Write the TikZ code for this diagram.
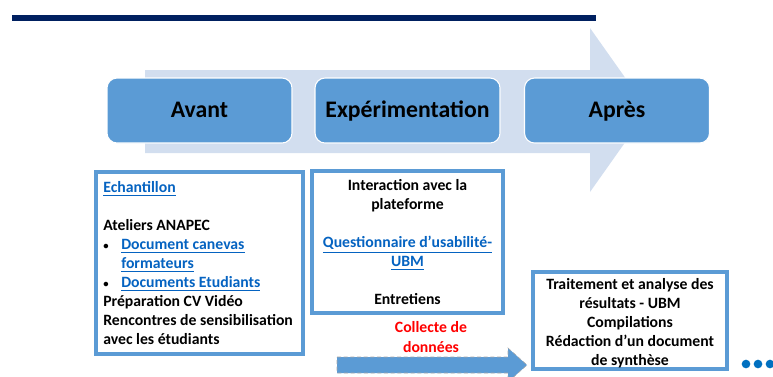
\documentclass[tikz,border=0pt]{standalone}
\usepackage{fontspec}
\setmainfont{Carlito}
\definecolor{navy}{HTML}{002060}
\definecolor{boxblue}{HTML}{5B9BD5}
\definecolor{lightarrow}{RGB}{210,222,239}
\definecolor{linkblue}{HTML}{0563C1}
\definecolor{dotblue}{HTML}{0070C0}
\newcommand{\lnk}[1]{\textcolor{linkblue}{\underline{#1}}}
\newcommand{\bul}{\makebox[13.5pt][l]{\raisebox{0.5pt}{\fontsize{8}{8}\selectfont\textbullet}}}
\tikzset{
  phase/.style={rounded corners=7.5pt, fill=boxblue, draw=white, line width=0.8pt,
    minimum width=138.75pt, minimum height=48.75pt, inner sep=0pt,
    text height=14pt, text depth=3.4pt,
    font=\fontsize{17.8}{20}\selectfont\bfseries},
  lowbox/.style={draw=boxblue, fill=white, line width=2.5pt, inner sep=0pt},
  lowtext/.style={inner sep=0pt, font=\fontsize{11.8}{14.25}\selectfont\bfseries},
  dotstyle/.style={circle, fill=dotblue, inner sep=0pt, minimum size=6.5pt}
}
\begin{document}
\begin{tikzpicture}[x=0.75pt,y=-0.75pt]
\useasboundingbox (0,0) rectangle (773,376);
\clip (0,0) rectangle (773,376);
% title bar
\fill[navy] (12,15) rectangle (596,21);
% big light arrow
\fill[lightarrow] (145,70) -- (590,70) -- (590,28) -- (648,110) -- (590,192) -- (590,153) -- (145,153) -- cycle;
% phase boxes
\node[phase] (avant) at (199.5,110.5) {Avant};
\node[phase] (exp) at (407.5,110.5) {Expérimentation};
\node[phase] (apres) at (617,110.5) {Après};
% lower boxes
\node[lowbox, minimum width=155.25pt, minimum height=136.5pt] (leftbox) at (199.5,263) {};
\node[lowtext, anchor=west, align=left] (lefttxt) at (103,263.5) {%
\lnk{Echantillon}\\
\mbox{}\\
Ateliers ANAPEC\\
\bul\lnk{Document canevas}\\
\hspace*{13.5pt}\lnk{formateurs}\\
\bul\lnk{Documents Etudiants}\\
Préparation CV Vidéo\\
Rencontres de sensibilisation\\
avec les étudiants};
\node[lowbox, minimum width=143.25pt, minimum height=106.5pt] (midbox) at (407.5,242) {};
\node[lowtext, align=center] (midtxt) at (407.5,242.5) {%
Interaction avec la\\
plateforme\\
\mbox{}\\
\lnk{Questionnaire d’usabilité-}\\
\lnk{UBM}\\
\mbox{}\\
Entretiens};
\node[lowbox, minimum width=145.5pt, minimum height=72.75pt] (rightbox) at (630,320.5) {};
\node[lowtext, align=center] (righttxt) at (630,323) {%
Traitement et analyse des\\
résultats - UBM\\
Compilations\\
Rédaction d’un document\\
de synthèse};
% collecte
\node[lowtext, align=center, text=red, font=\fontsize{11.8}{15}\selectfont\bfseries] (collecte) at (431,337) {Collecte de\\données};
% blue arrow
\filldraw[fill=boxblue, draw=gray!70, densely dashed, line width=0.4pt]
  (337,357) -- (508,357) -- (508,348) -- (527,365) -- (508,382) -- (508,373) -- (337,373) -- cycle;
% dots
\node[dotstyle] (d1) at (746,364) {};
\node[dotstyle] (d2) at (758,364) {};
\node[dotstyle] (d3) at (770,364) {};
\end{tikzpicture}
\end{document}
